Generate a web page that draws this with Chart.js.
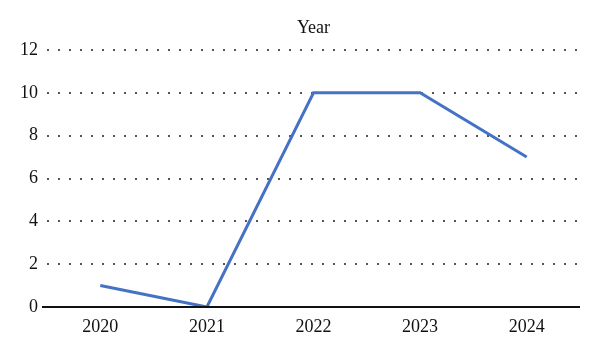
<!DOCTYPE html>
<html>
<head>
<meta charset="utf-8">
<script src="https://cdn.jsdelivr.net/npm/chart.js@4"></script>
<style>
  html, body { margin: 0; padding: 0; background: #fff; }
  #wrap { width: 600px; height: 353px; }
</style>
</head>
<body>
<div id="wrap"><canvas id="grafico"></canvas></div>
<script>
const years = ['2020', '2021', '2022', '2023', '2024'];
const values = [1, 0, 10, 10, 7];
const yTicks = [0, 2, 4, 6, 8, 10, 12];
const titleText = 'Year';

const serif = '"Liberation Serif", "DejaVu Serif", serif';

// titulo centrado sobre el area del grafico + eje x un poco mas largo
const tituloPlugin = {
    id: 'tituloArea',
    afterDraw(chart) {
        const { ctx, chartArea } = chart;
        ctx.save();
        ctx.font = '18px ' + serif;
        ctx.fillStyle = '#111';
        ctx.textAlign = 'center';
        ctx.textBaseline = 'middle';
        ctx.fillText(titleText, (chartArea.left + chartArea.right) / 2, 28);
        ctx.strokeStyle = '#111';
        ctx.lineWidth = 2;
        ctx.beginPath();
        ctx.moveTo(chartArea.left - 5, chartArea.bottom);
        ctx.lineTo(chartArea.right, chartArea.bottom);
        ctx.stroke();
        ctx.restore();
    }
};

new Chart(document.getElementById('grafico'), {
    type: 'line',
    data: {
        labels: years,
        datasets: [{
            data: values,
            borderColor: '#4472C4',
            borderWidth: 3,
            pointRadius: 0,
            tension: 0,
            fill: false
        }]
    },
    options: {
        responsive: true,
        maintainAspectRatio: false,
        animation: false,
        layout: { padding: { top: 50, right: 20, left: 0, bottom: 0 } },
        plugins: {
            legend: { display: false },
            title: { display: false },
            tooltip: { enabled: false }
        },
        scales: {
            x: {
                offset: true,
                grid: { display: false, drawTicks: false },
                border: { display: false },
                ticks: {
                    color: '#111',
                    font: { family: serif, size: 18 },
                    padding: 9,
                    maxRotation: 0
                },
                afterFit(scale) { scale.height = 46; }
            },
            y: {
                min: 0,
                max: 12,
                afterBuildTicks(scale) { scale.ticks = yTicks.map(v => ({ value: v })); },
                grid: {
                    color: '#555',
                    lineWidth: 2,
                    drawTicks: false
                },
                border: { display: false, dash: [2, 9] },
                ticks: {
                    color: '#111',
                    font: { family: serif, size: 18 },
                    padding: 9
                },
                afterFit(scale) { scale.width = 47; }
            }
        }
    },
    plugins: [tituloPlugin]
});
</script>
</body>
</html>
